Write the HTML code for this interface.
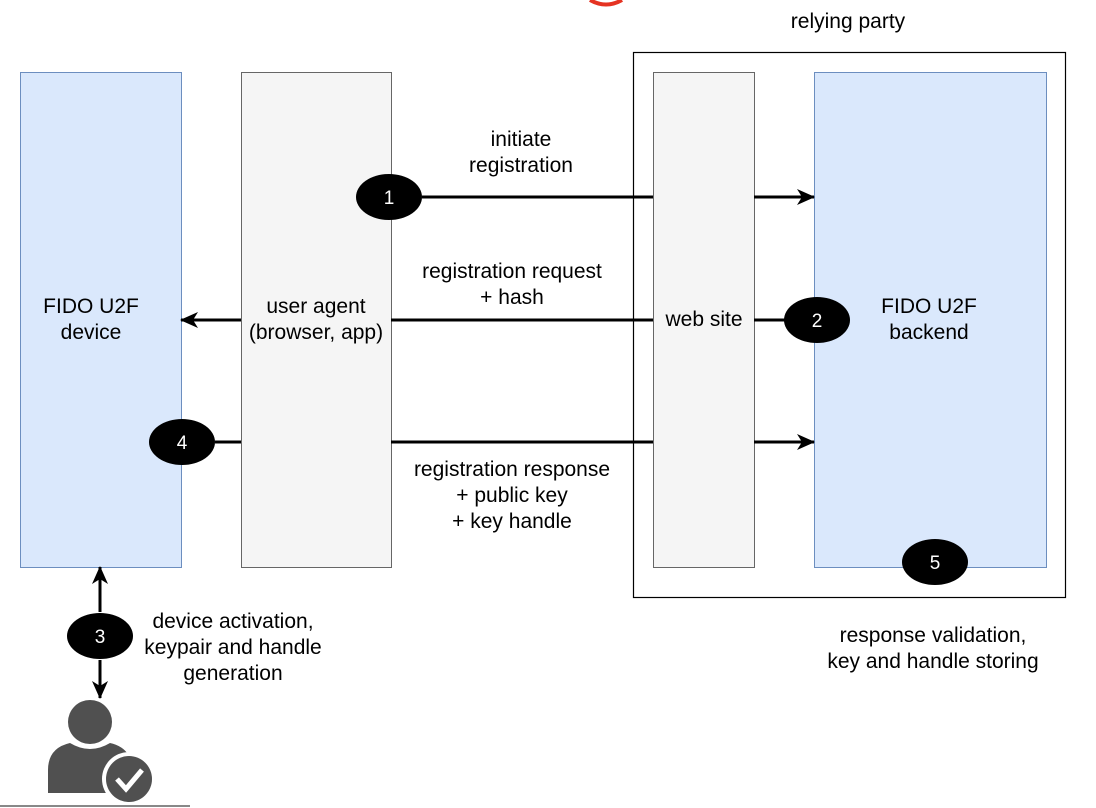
<!DOCTYPE html>
<html><head><style>body{margin:0;background:#fff}svg{display:block}text{font-family:"Liberation Sans",sans-serif;font-size:21px;fill:#000}</style></head>
<body>
<svg width="1096" height="808" viewBox="0 0 1096 808">
<defs><marker id="b" markerWidth="18" markerHeight="16" refX="17" refY="8" orient="auto" markerUnits="userSpaceOnUse"><path d="M0,0L18,8L0,16L5,8z" fill="#000"/></marker></defs>
<path d="M590,0 Q606,9 622,0" stroke="#e53322" stroke-width="4" fill="none"/>
<rect x="633.5" y="52.5" width="432" height="545" fill="#fff" stroke="#000" stroke-width="1.2"/>
<rect x="20.5" y="72.5" width="161" height="495" fill="#dae8fc" stroke="#6c8ebf"/>
<rect x="241.5" y="72.5" width="150" height="495" fill="#f5f5f5" stroke="#666"/>
<rect x="653.5" y="72.5" width="101" height="495" fill="#f5f5f5" stroke="#666"/>
<rect x="814.5" y="72.5" width="232" height="495" fill="#dae8fc" stroke="#6c8ebf"/>
<g stroke="#000" stroke-width="3" fill="none">
<line x1="422" y1="197" x2="653" y2="197"/><line x1="754" y1="197" x2="814" y2="197" marker-end="url(#b)"/>
<line x1="391" y1="320" x2="653" y2="320"/><line x1="241" y1="320" x2="181" y2="320" marker-end="url(#b)"/>
<line x1="754" y1="320" x2="786" y2="320"/>
<line x1="215" y1="442" x2="241" y2="442"/><line x1="391" y1="442" x2="653" y2="442"/><line x1="754" y1="442" x2="814" y2="442" marker-end="url(#b)"/>
<line x1="100" y1="612" x2="100" y2="567" marker-end="url(#b)"/><line x1="100" y1="660" x2="100" y2="698" marker-end="url(#b)"/>
</g>
<g fill="#000"><ellipse cx="389" cy="197" rx="33" ry="23"/><ellipse cx="817" cy="320" rx="33" ry="23"/><ellipse cx="182" cy="442" rx="33" ry="23"/><ellipse cx="935" cy="562" rx="33" ry="23"/><ellipse cx="100" cy="636" rx="33" ry="23"/></g>
<g text-anchor="middle">
<text x="389" y="204" style="fill:#fff;font-size:19px">1</text><text x="817" y="327" style="fill:#fff;font-size:19px">2</text><text x="182" y="449" style="fill:#fff;font-size:19px">4</text><text x="935" y="569" style="fill:#fff;font-size:19px">5</text><text x="100" y="643" style="fill:#fff;font-size:19px">3</text>
<text x="848" y="28">relying party</text>
<text x="521" y="146">initiate</text><text x="521" y="172">registration</text>
<text x="512" y="278">registration request</text><text x="512" y="304">+ hash</text>
<text x="91" y="313">FIDO U2F</text><text x="91" y="339">device</text>
<text x="316" y="313">user agent</text><text x="316" y="339">(browser, app)</text>
<text x="704" y="326">web site</text>
<text x="929" y="313">FIDO U2F</text><text x="929" y="339">backend</text>
<text x="512" y="476">registration response</text><text x="512" y="502">+ public key</text><text x="512" y="528">+ key handle</text>
<text x="233" y="628">device activation,</text><text x="233" y="654">keypair and handle</text><text x="233" y="680">generation</text>
<text x="933" y="642">response validation,</text><text x="933" y="668">key and handle storing</text>
</g>
<g fill="#505050"><circle cx="90" cy="722" r="22"/><path d="M48,793 L48,770 Q48,748 70,743 Q90,755 110,743 Q132,748 132,770 L132,793z"/></g>
<circle cx="129" cy="779" r="27" fill="#fff"/><circle cx="129" cy="779" r="23" fill="#505050"/>
<path d="M117,779 L126,789 L142,770" stroke="#fff" stroke-width="5" fill="none"/>
<line x1="0" y1="806" x2="190" y2="806" stroke="#888" stroke-width="2"/>
</svg>
</body></html>
